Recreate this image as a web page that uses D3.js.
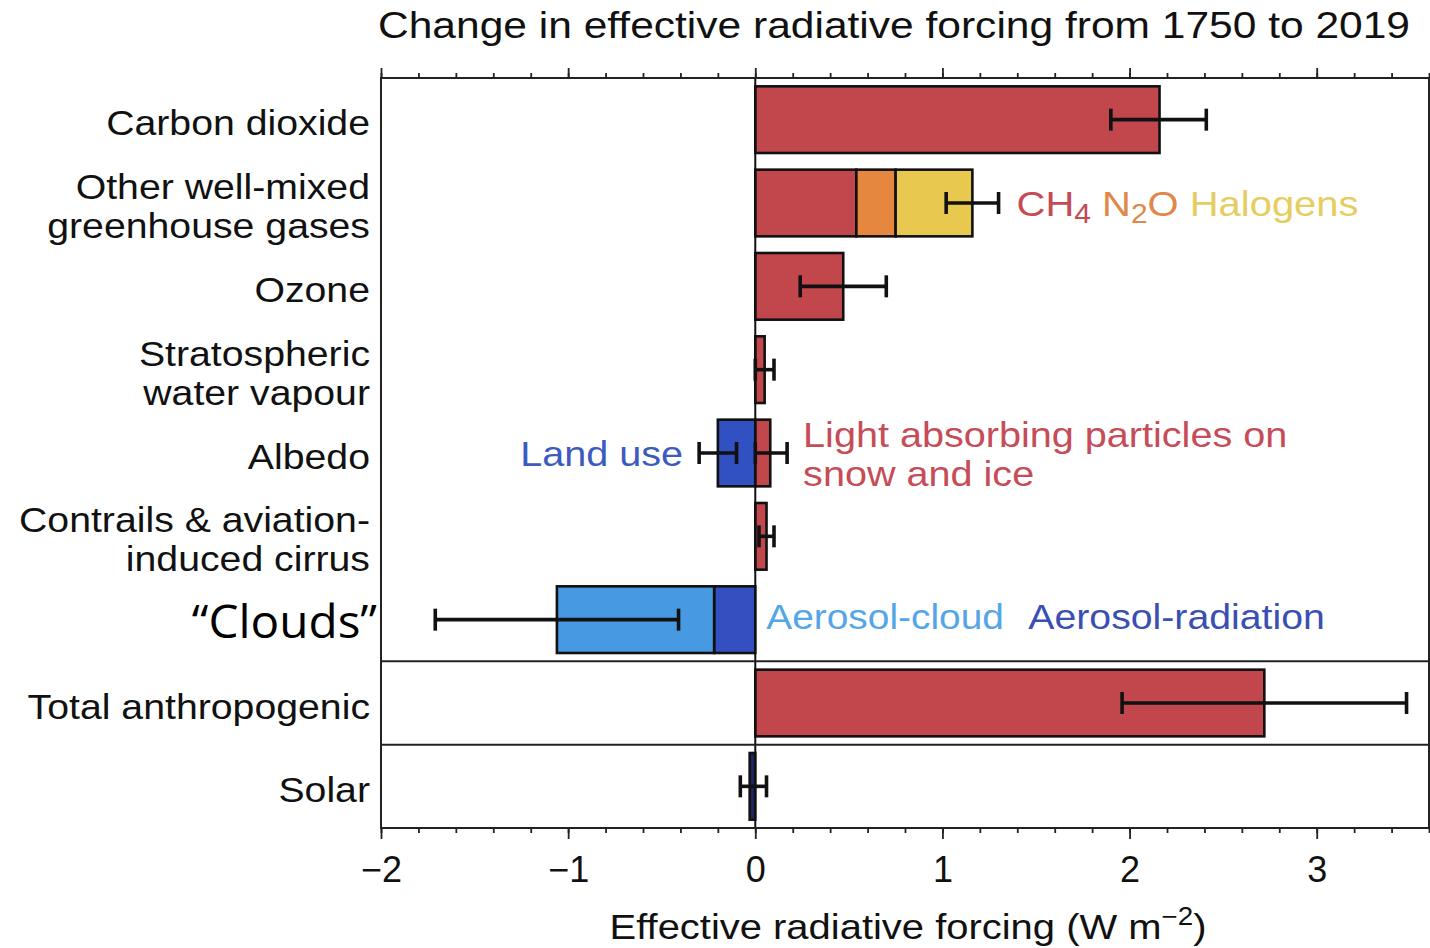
<!DOCTYPE html>
<html>
<head>
<meta charset="utf-8">
<script src="https://cdn.jsdelivr.net/npm/d3@7"></script>
<style>
  html, body { margin: 0; padding: 0; background: #ffffff; }
  svg { display: block; }
  text { font-family: "Liberation Sans", Arial, Helvetica, sans-serif; }
</style>
</head>
<body>
<svg id="chart" width="1430" height="948"></svg>
<script>
// ---------------- data ----------------
const categories = ["co2", "wmghg", "ozone", "h2o", "albedo", "contrails", "clouds", "total", "solar"];
const categoryLabels = [
  ["Carbon dioxide"],
  ["Other well-mixed", "greenhouse gases"],
  ["Ozone"],
  ["Stratospheric", "water vapour"],
  ["Albedo"],
  ["Contrails & aviation-", "induced cirrus"],
  ["\u201CClouds\u201D"],
  ["Total anthropogenic"],
  ["Solar"]
];

// bar segments (stacked outward from zero in listed order)
const segCategory  = ["co2", "wmghg", "wmghg", "wmghg", "ozone", "h2o", "albedo", "albedo", "contrails", "clouds", "clouds", "total", "solar"];
const segComponent = ["CO2", "CH4", "N2O", "Halogens", "Ozone", "H2O", "Land use", "LAPSI", "Contrails", "Aerosol-radiation", "Aerosol-cloud", "Total", "Solar"];
const segValue     = [2.16, 0.54, 0.21, 0.41, 0.47, 0.05, -0.20, 0.08, 0.06, -0.22, -0.84, 2.72, -0.03];
const segColor     = ["#c2474d", "#c2474d", "#e5873f", "#e8c84f", "#c2474d", "#c2474d", "#3150c2", "#c2474d", "#c2474d", "#3450c0", "#4799e2", "#c2474d", "#1e2460"];

// uncertainty ranges
const errCategory = ["co2", "wmghg", "ozone", "h2o", "albedo", "albedo", "contrails", "clouds", "total", "solar"];
const errLow      = [1.90, 1.02, 0.24, 0.00, -0.30, 0.00, 0.02, -1.71, 1.96, -0.08];
const errHigh     = [2.41, 1.30, 0.70, 0.10, -0.10, 0.17, 0.10, -0.41, 3.48, 0.06];

const xMajorTicks = [-2, -1, 0, 1, 2, 3];
const xMinorTicks = d3.range(-2, 3.61, 0.2).map(v => Math.round(v * 10) / 10);

const title = "Change in effective radiative forcing from 1750 to 2019";

// ---------------- layout ----------------
const svg = d3.select("#chart");
const pLeft = 381, pRight = 1429, pTop = 78, pBottom = 828;
const x = d3.scaleLinear().domain([-2, 3.6]).range([pLeft, pRight]);
const y = d3.scaleBand().domain(categories).range([pTop, pBottom]).paddingInner(0.2).paddingOuter(0.1);

// horizontal widening of a text around its anchor x
function stretch(sel, ax, f) {
  sel.attr("transform", `translate(${ax},0) scale(${f},1) translate(${-ax},0)`);
  return sel;
}

// stack segments
const segs = [];
const posAcc = {}, negAcc = {};
segValue.forEach((v, i) => {
  const c = segCategory[i];
  let x0, x1;
  if (v >= 0) { x0 = posAcc[c] || 0; x1 = x0 + v; posAcc[c] = x1; }
  else { x0 = negAcc[c] || 0; x1 = x0 + v; negAcc[c] = x1; }
  segs.push({cat: c, comp: segComponent[i], x0, x1, color: segColor[i]});
});

// title
svg.append("text")
  .attr("x", 378).attr("y", 38)
  .attr("font-size", 37)
  .attr("fill", "#111")
  .attr("textLength", 1032)
  .attr("lengthAdjust", "spacingAndGlyphs")
  .text(title);

// bars
svg.append("g").selectAll("rect").data(segs).join("rect")
  .attr("x", d => x(Math.min(d.x0, d.x1)))
  .attr("y", d => y(d.cat))
  .attr("width", d => Math.abs(x(d.x1) - x(d.x0)))
  .attr("height", y.bandwidth())
  .attr("fill", d => d.color)
  .attr("stroke", "#111")
  .attr("stroke-width", 2.6);

// zero line
svg.append("line")
  .attr("x1", x(0)).attr("x2", x(0))
  .attr("y1", pTop).attr("y2", pBottom)
  .attr("stroke", "#111").attr("stroke-width", 2);

// separators
["clouds", "total"].forEach(a => {
  const yy = y(a) + y.bandwidth() + y.step() * y.paddingInner() / 2;
  svg.append("line")
    .attr("x1", pLeft).attr("x2", pRight)
    .attr("y1", yy).attr("y2", yy)
    .attr("stroke", "#222").attr("stroke-width", 2);
});

// error bars
const capH = 22;
const eg = svg.append("g").attr("stroke", "#111").attr("stroke-width", 3.6);
errCategory.forEach((c, i) => {
  const cy = y(c) + y.bandwidth() / 2;
  eg.append("line").attr("x1", x(errLow[i])).attr("x2", x(errHigh[i])).attr("y1", cy).attr("y2", cy);
  eg.append("line").attr("x1", x(errLow[i])).attr("x2", x(errLow[i])).attr("y1", cy - capH / 2).attr("y2", cy + capH / 2);
  eg.append("line").attr("x1", x(errHigh[i])).attr("x2", x(errHigh[i])).attr("y1", cy - capH / 2).attr("y2", cy + capH / 2);
});

// frame
svg.append("rect")
  .attr("x", pLeft).attr("y", pTop)
  .attr("width", pRight - pLeft).attr("height", pBottom - pTop)
  .attr("fill", "none").attr("stroke", "#222").attr("stroke-width", 2);

// axes
const axTop = svg.append("g").attr("transform", `translate(0,${pTop})`);
axTop.call(d3.axisTop(x).tickValues(xMinorTicks).tickSize(5).tickFormat(""));
axTop.append("g").call(d3.axisTop(x).tickValues(xMajorTicks).tickSize(10).tickFormat(""));
axTop.selectAll(".domain").remove();
axTop.selectAll("line").attr("stroke", "#222").attr("stroke-width", 1.8);

const axBot = svg.append("g").attr("transform", `translate(0,${pBottom})`);
axBot.call(d3.axisBottom(x).tickValues(xMinorTicks).tickSize(5).tickFormat(""));
const axBotMaj = axBot.append("g").call(
  d3.axisBottom(x).tickValues(xMajorTicks).tickSize(11).tickPadding(17)
    .tickFormat(d => d < 0 ? "\u2212" + Math.abs(d) : String(d)));
axBot.selectAll(".domain").remove();
axBot.selectAll("line").attr("stroke", "#222").attr("stroke-width", 1.8);
axBotMaj.selectAll("text")
  .attr("font-size", 36)
  .attr("font-family", "Liberation Sans, Arial, sans-serif")
  .attr("fill", "#111");

// x axis title
const xt = svg.append("text")
  .attr("x", 908).attr("y", 939)
  .attr("text-anchor", "middle")
  .attr("font-size", 36)
  .attr("fill", "#111");
xt.append("tspan").text("Effective radiative forcing (W m");
xt.append("tspan").attr("font-size", 25).attr("dy", -14).text("\u22122");
xt.append("tspan").attr("dy", 14).text(")");
stretch(xt, 908, 1.11);

// category labels
categories.forEach((c, i) => {
  const lines = categoryLabels[i];
  const cy = y(c) + y.bandwidth() / 2 + 3;
  const lh = 39;
  const isClouds = c === "clouds";
  const ax = isClouds ? 377 : 370;
  const t = svg.append("text")
    .attr("x", ax)
    .attr("text-anchor", "end")
    .attr("font-size", isClouds ? 45 : 36)
    .attr("fill", isClouds ? "#000" : "#111")
    .style("font-family", isClouds ? "'Open Sans', 'Noto Sans', sans-serif" : null);
  lines.forEach((ln, j) => {
    t.append("tspan")
      .attr("x", ax)
      .attr("y", cy + (j - (lines.length - 1) / 2) * lh)
      .attr("dy", "0.35em")
      .text(ln);
  });
  stretch(t, ax, isClouds ? 1.06 : 1.09);
});

// annotations
const annSize = 36;
const cyOf = c => y(c) + y.bandwidth() / 2;

// CH4 N2O Halogens
const ghX = x(errHigh[1]) + 18;
const gh = svg.append("text")
  .attr("x", ghX).attr("y", cyOf("wmghg")).attr("dy", "0.35em")
  .attr("font-size", annSize);
gh.append("tspan").attr("fill", "#c44a55").text("CH");
gh.append("tspan").attr("fill", "#c44a55").attr("font-size", 27).attr("dy", 7).text("4");
gh.append("tspan").attr("fill", "#e0874a").attr("dy", -7).text(" N");
gh.append("tspan").attr("fill", "#e0874a").attr("font-size", 27).attr("dy", 7).text("2");
gh.append("tspan").attr("fill", "#e0874a").attr("dy", -7).text("O");
gh.append("tspan").attr("fill", "#e6cd60").text(" Halogens");
stretch(gh, ghX, 1.11);

// Land use
const luX = x(errLow[4]) - 16;
const lu = svg.append("text")
  .attr("x", luX).attr("y", cyOf("albedo")).attr("dy", "0.35em")
  .attr("text-anchor", "end").attr("font-size", annSize).attr("fill", "#3d5bbf")
  .text("Land use");
stretch(lu, luX, 1.1);

// Light absorbing particles
const laX = x(errHigh[5]) + 16;
const la = svg.append("text").attr("font-size", annSize).attr("fill", "#c64c58");
la.append("tspan").attr("x", laX).attr("y", cyOf("albedo") - 19).attr("dy", "0.35em").text("Light absorbing particles on");
la.append("tspan").attr("x", laX).attr("y", cyOf("albedo") + 20).attr("dy", "0.35em").text("snow and ice");
stretch(la, laX, 1.1);

// Aerosol labels
const acX = x(0) + 11;
const ac = svg.append("text")
  .attr("x", acX).attr("y", cyOf("clouds") - 3).attr("dy", "0.35em")
  .attr("font-size", annSize).attr("fill", "#55a6e6")
  .text("Aerosol-cloud");
stretch(ac, acX, 1.08);
const arX = x(0) + 273;
const ar = svg.append("text")
  .attr("x", arX).attr("y", cyOf("clouds") - 3).attr("dy", "0.35em")
  .attr("font-size", annSize).attr("fill", "#3a4fb2")
  .text("Aerosol-radiation");
stretch(ar, arX, 1.09);
</script>
</body>
</html>
